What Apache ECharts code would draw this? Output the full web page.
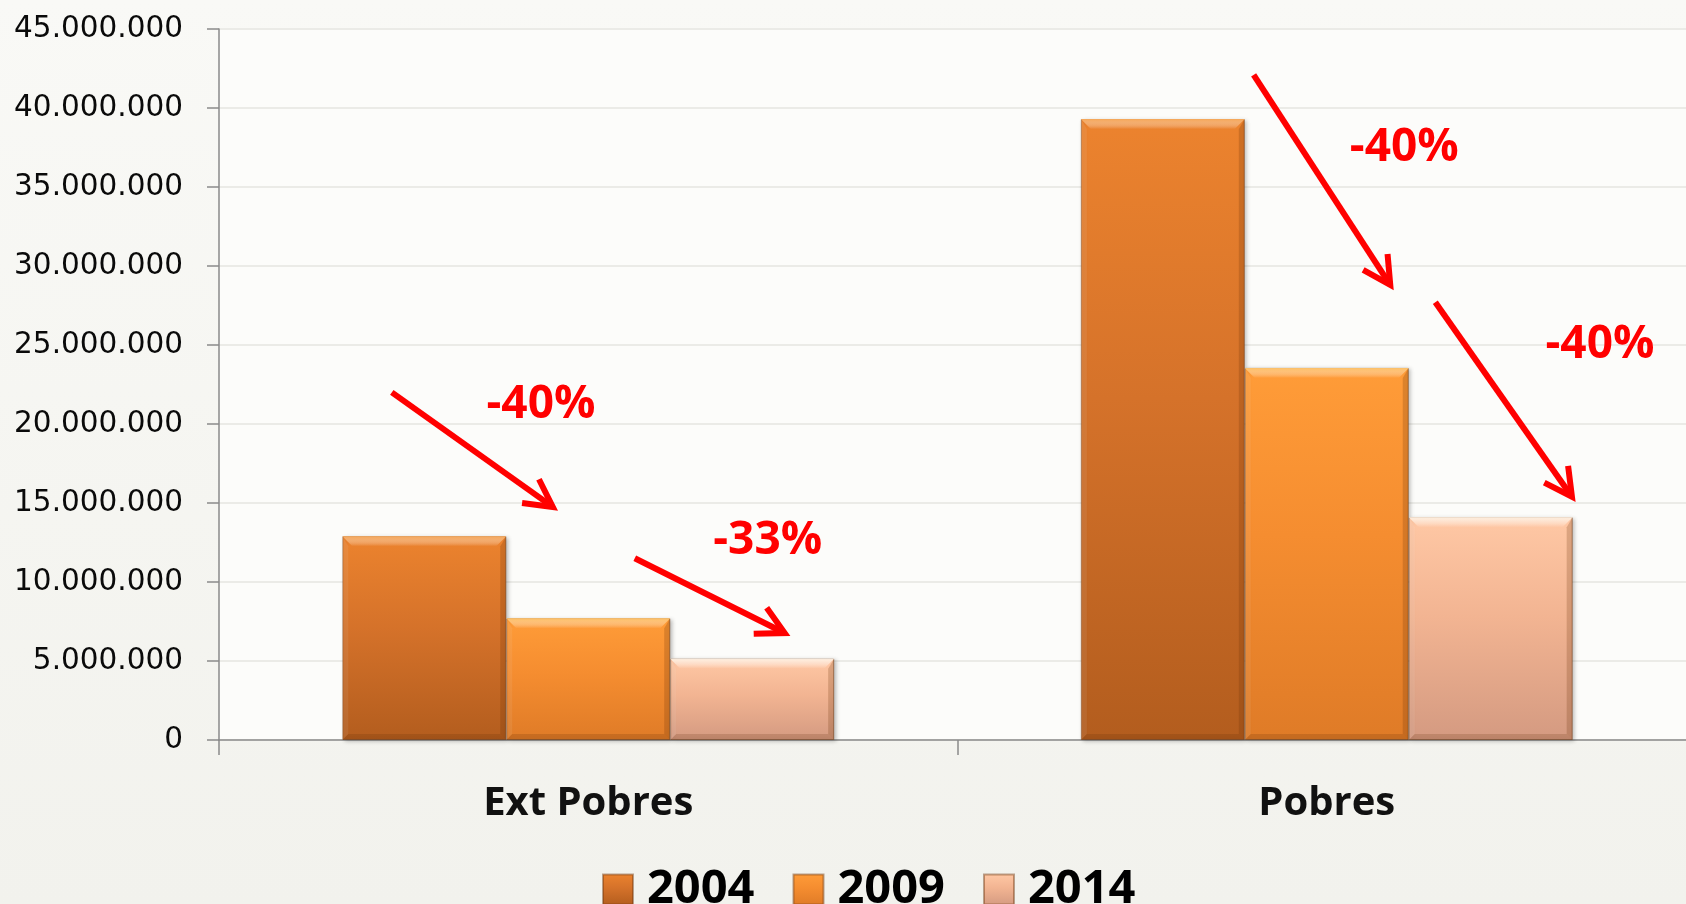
<!DOCTYPE html>
<html>
<head>
<meta charset="utf-8">
<script src="https://cdn.jsdelivr.net/npm/echarts@6/dist/echarts.min.js"></script>
<style>
  html, body { margin: 0; padding: 0; background: #f6f6f2; }
  #chart_box { width: 1686px; height: 904px; }
</style>
</head>
<body>
<div id="chart_box"></div>
<script>
// datos
var categories = ['Ext Pobres', 'Pobres'];
var years = ['2004', '2009', '2014'];
var values2004 = [12900000, 39300000];
var values2009 = [7700000, 23550000];
var values2014 = [5150000, 14100000];

// flechas: [x inicio, y inicio, x punta, y punta] (x en unidades de categoria 0..2)
var arrows = [
    [0.234, 22000000, 0.452, 14750000],
    [0.563, 11500000, 0.766, 6770000],
    [1.401, 42100000, 1.586, 28800000],
    [1.647, 27700000, 1.832, 15400000]
];
var changeLabels = ['-40%', '-33%', '-40%', '-40%'];
var labelSpots = [
    [0.436, 21200000],
    [0.743, 12600000],
    [1.605, 37500000],
    [1.870, 25000000]
];

var barColors = [
    ['#ec832e', '#d5722a', '#b35d1e'],
    ['#ff9c38', '#f58d30', '#df7b27'],
    ['#ffc8a5', '#f2b492', '#d49a81']
];
var bevelColors = ['#f7a655', '#ffc062', '#fff0e0'];
var catGap = 0.334;

function grad(c) {
    return new echarts.graphic.LinearGradient(0, 0, 0, 1, [
        { offset: 0, color: c[0] },
        { offset: 0.45, color: c[1] },
        { offset: 1, color: c[2] }
    ]);
}

function fmt(v) {
    return String(v).replace(/\B(?=(\d{3})+(?!\d))/g, '.');
}

var mycharts = echarts.init(document.getElementById('chart_box'));

var seriesValues = [values2004, values2009, values2014];
var barSeries = years.map(function (y, i) {
    return {
        name: y,
        type: 'bar',
        xAxisIndex: 0,
        barGap: '0%',
        barCategoryGap: (catGap * 100) + '%',
        data: seriesValues[i],
        itemStyle: {
            color: grad(barColors[i]),
            borderColor: 'rgba(110,55,15,0.45)',
            borderWidth: 1,
            shadowColor: 'rgba(0,0,0,0.25)',
            shadowBlur: 4,
            shadowOffsetX: 2,
            shadowOffsetY: 1
        }
    };
});

// relieve (bisel) encima de cada barra
var bevelSeries = years.map(function (y, i) {
    return {
        name: 'bisel' + y,
        type: 'custom',
        xAxisIndex: 0,
        yAxisIndex: 0,
        silent: true,
        z: 3,
        data: seriesValues[i].map(function (v, k) { return [k, v]; }),
        renderItem: function (params, api) {
            var band = api.size([1, 0])[0];
            var groupW = band * (1 - catGap);
            var w = groupW / 3;
            var c = api.coord([api.value(0), api.value(1)]);
            var base = api.coord([api.value(0), 0]);
            var x0 = c[0] - groupW / 2 + i * w;
            var x1 = x0 + w;
            var top = c[1], bot = base[1];
            var b = 10, s = 6;
            return {
                type: 'group',
                children: [
                    {
                        type: 'polygon',
                        shape: { points: [[x0, top], [x1, top], [x1 - b, top + b], [x0 + b, top + b]] },
                        style: {
                            fill: new echarts.graphic.LinearGradient(0, 0, 0, 1, [
                                { offset: 0, color: bevelColors[i] },
                                { offset: 1, color: 'rgba(255,255,255,0)' }
                            ])
                        }
                    },
                    {
                        type: 'polygon',
                        shape: { points: [[x1, top], [x1, bot], [x1 - s, bot - s], [x1 - s, top + b]] },
                        style: { fill: 'rgba(100,45,5,0.22)' }
                    },
                    {
                        type: 'polygon',
                        shape: { points: [[x0, top], [x0 + s, top + b], [x0 + s, bot - s], [x0, bot]] },
                        style: { fill: 'rgba(255,255,255,0.08)' }
                    },
                    {
                        type: 'polygon',
                        shape: { points: [[x0, bot], [x0 + s, bot - s], [x1 - s, bot - s], [x1, bot]] },
                        style: { fill: 'rgba(90,40,5,0.18)' }
                    }
                ]
            };
        }
    };
});

var arrowData = arrows.map(function (a, i) {
    return [a[0], a[1], a[2], a[3], labelSpots[i][0], labelSpots[i][1]];
});

var arrowSeries = {
    name: 'flechas',
    type: 'custom',
    xAxisIndex: 1,
    yAxisIndex: 0,
    silent: true,
    z: 4,
    encode: { x: [0, 2, 4], y: [1, 3, 5] },
    data: arrowData,
    renderItem: function (params, api) {
        var p1 = api.coord([api.value(0), api.value(1)]);
        var p2 = api.coord([api.value(2), api.value(3)]);
        var pt = api.coord([api.value(4), api.value(5)]);
        var ang = Math.atan2(p2[1] - p1[1], p2[0] - p1[0]);
        var L = 31, a = 28 * Math.PI / 180;
        var arm1 = [p2[0] - L * Math.cos(ang - a), p2[1] - L * Math.sin(ang - a)];
        var arm2 = [p2[0] - L * Math.cos(ang + a), p2[1] - L * Math.sin(ang + a)];
        var end = [p2[0] - 4 * Math.cos(ang), p2[1] - 4 * Math.sin(ang)];
        var red = '#ff0000';
        return {
            type: 'group',
            children: [
                {
                    type: 'line',
                    shape: { x1: p1[0], y1: p1[1], x2: end[0], y2: end[1] },
                    style: { stroke: red, lineWidth: 6 }
                },
                {
                    type: 'polyline',
                    shape: { points: [arm1, p2, arm2] },
                    style: { stroke: red, lineWidth: 6, fill: null, lineJoin: 'miter' }
                },
                {
                    type: 'text',
                    x: pt[0],
                    y: pt[1],
                    style: {
                        text: changeLabels[params.dataIndex],
                        fill: red,
                        fontFamily: 'Open Sans',
                        fontWeight: 'bold',
                        fontSize: 46,
                        align: 'center',
                        verticalAlign: 'middle'
                    }
                }
            ]
        };
    }
};

var optionObj = {
    backgroundColor: new echarts.graphic.LinearGradient(0, 0, 0, 1, [
        { offset: 0, color: '#f9f9f6' },
        { offset: 1, color: '#f2f2ed' }
    ]),
    animation: false,
    grid: {
        left: 219,
        width: 1477,
        top: 29,
        bottom: 164,
        outerBoundsMode: 'none',
        containLabel: false,
        show: true,
        backgroundColor: '#fcfcfa',
        borderWidth: 0
    },
    legend: {
        data: years,
        left: 602,
        top: 866,
        padding: 0,
        itemWidth: 30,
        itemHeight: 30,
        itemGap: 38,
        icon: 'rect',
        textStyle: {
            fontFamily: 'Open Sans',
            fontWeight: 'bold',
            fontSize: 47,
            color: '#000',
            padding: [0, 0, 0, 9]
        }
    },
    xAxis: [
        {
            type: 'category',
            data: categories,
            axisLine: { lineStyle: { color: '#8a8a8a', width: 1.5 } },
            axisTick: { show: true, length: 15, lineStyle: { color: '#8a8a8a', width: 1.5 } },
            axisLabel: {
                margin: 44,
                fontFamily: 'Open Sans',
                fontWeight: 'bold',
                fontSize: 40,
                color: '#111'
            }
        },
        {
            type: 'value',
            min: 0,
            max: 2,
            show: false
        }
    ],
    yAxis: {
        type: 'value',
        min: 0,
        max: 45000000,
        interval: 5000000,
        axisLine: { show: true, lineStyle: { color: '#8a8a8a', width: 1.5 } },
        axisTick: { show: true, length: 12, lineStyle: { color: '#8a8a8a', width: 1.5 } },
        axisLabel: {
            margin: 36,
            fontFamily: 'DejaVu Sans',
            fontSize: 29.5,
            color: '#0a0a0a',
            formatter: fmt
        },
        splitLine: { lineStyle: { color: '#ebebe7', width: 2 } }
    },
    series: barSeries.concat(bevelSeries, [arrowSeries])
};

mycharts.setOption(optionObj);
window.onresize = function () {
    mycharts.resize();
};
</script>
</body>
</html>
